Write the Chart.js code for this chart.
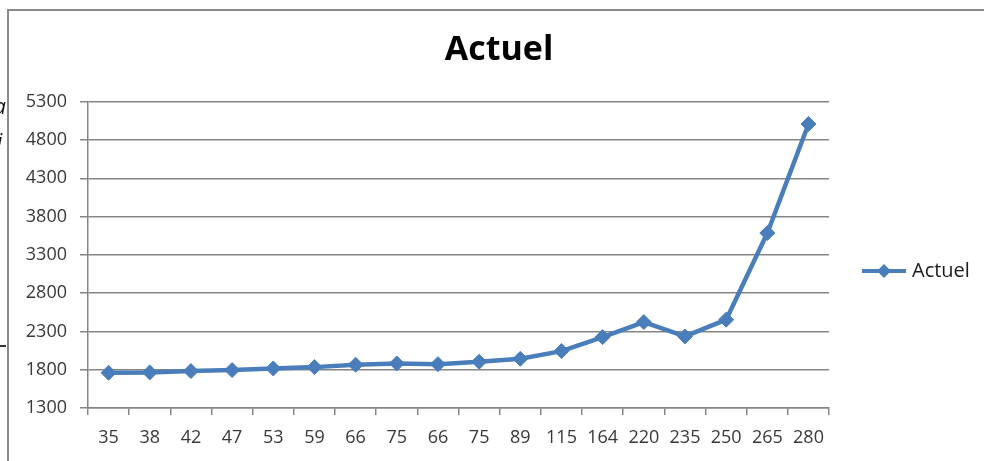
<!DOCTYPE html>
<html>
<head>
<meta charset="utf-8">
<script src="https://cdn.jsdelivr.net/npm/chart.js@4.4.1/dist/chart.umd.min.js"></script>
<style>
  html, body { margin: 0; padding: 0; background: #fff; overflow: hidden; }
  #wrap { position: relative; width: 984px; height: 461px; overflow: hidden; }
  canvas { display: block; }
  .edge { position: absolute; font: italic 21px 'Open Sans', sans-serif; color: #111; line-height: 1; }
  .dash { position: absolute; left: 0; width: 6px; height: 1.5px; background: #333; }
</style>
</head>
<body>
<div id="wrap">
  <canvas id="chart" width="984" height="461"></canvas>
  <span class="edge" style="left:-6px;top:96px">a</span>
  <span class="edge" style="left:-3px;top:131px">i</span>
  <div class="dash" style="top:345px"></div>
</div>
<script>
// Category labels along the bottom axis
const categories = ['35', '38', '42', '47', '53', '59', '66', '75', '66', '75', '89', '115', '164', '220', '235', '250', '265', '280'];
// Series values
const actuel = [1760, 1765, 1782, 1795, 1817, 1834, 1865, 1882, 1873, 1904, 1943, 2043, 2226, 2422, 2235, 2454, 3586, 5010];
// Value axis range and step
const yMin = 1300;
const yMax = 5300;
const yStep = 500;

const seriesColor = '#4A7EBB';
const gridColor = '#858585';
const tickColor = '#383838';

// Legend symbol: a short line with a diamond in the middle
function legendSymbol() {
  const c = document.createElement('canvas');
  c.width = 44; c.height = 16;
  const g = c.getContext('2d');
  g.strokeStyle = seriesColor;
  g.lineWidth = 4;
  g.beginPath(); g.moveTo(0, 8); g.lineTo(44, 8); g.stroke();
  g.fillStyle = seriesColor;
  g.beginPath(); g.moveTo(22, 1); g.lineTo(29, 8); g.lineTo(22, 15); g.lineTo(15, 8); g.closePath(); g.fill();
  return c;
}

// Outer frame of the chart object (top and left edges)
const frame = {
  id: 'frame',
  beforeDraw(chart) {
    const ctx = chart.ctx;
    ctx.save();
    ctx.strokeStyle = '#8a8a8a';
    ctx.lineWidth = 2;
    ctx.beginPath();
    ctx.moveTo(8, chart.height);
    ctx.lineTo(8, 10);
    ctx.lineTo(chart.width, 10);
    ctx.stroke();
    ctx.restore();
  }
};

// Place title and legend relative to the whole frame
const placeBlocks = {
  id: 'placeBlocks',
  afterLayout(chart) {
    const t = chart.titleBlock;
    if (t) {
      const dx = (8 + chart.width) / 2 + 3 - (t.left + t.right) / 2;
      t.left += dx; t.right += dx;
    }
    const l = chart.legend;
    if (l) {
      const dy = 271 - (l.top + l.bottom) / 2;
      l.top += dy; l.bottom += dy;
      const dxl = 866 - 10 - l.left;
      l.left += dxl; l.right += dxl;
      if (l.adjustHitBoxes) l.adjustHitBoxes();
    }
  }
};

const symbol = legendSymbol();

new Chart(document.getElementById('chart'), {
  type: 'line',
  data: {
    labels: categories,
    datasets: [{
      label: 'Actuel',
      data: actuel,
      borderColor: seriesColor,
      backgroundColor: seriesColor,
      borderWidth: 4.5,
      tension: 0,
      pointStyle: 'rectRot',
      pointRadius: 7.5,
      pointBorderWidth: 1,
      pointBackgroundColor: seriesColor,
      pointBorderColor: seriesColor
    }]
  },
  options: {
    responsive: false,
    animation: false,
    layout: { padding: { top: 9, right: 31, left: 0, bottom: 0 } },
    plugins: {
      title: {
        display: true,
        text: 'Actuel',
        color: '#000',
        font: { family: 'Open Sans', size: 34, weight: 'bold' },
        padding: { top: 21, bottom: 31 }
      },
      legend: {
        display: true,
        position: 'right',
        labels: {
          color: '#1a1a1a',
          font: { family: 'Open Sans', size: 20 },
          usePointStyle: true,
          pointStyleWidth: 36,
          padding: 10,
          generateLabels(chart) {
            const items = Chart.defaults.plugins.legend.labels.generateLabels(chart);
            items.forEach(it => { it.pointStyle = symbol; });
            return items;
          }
        }
      },
      tooltip: { enabled: false }
    },
    scales: {
      x: {
        type: 'category',
        offset: true,
        grid: { display: true, drawOnChartArea: false, drawTicks: true, tickLength: 7, color: gridColor, lineWidth: 1.5, offset: true },
        border: { display: true, color: gridColor, width: 1.5 },
        ticks: { color: tickColor, font: { family: 'Open Sans', size: 18 }, padding: 12, maxRotation: 0, autoSkip: false },
        afterFit(scale) { scale.height = 53; }
      },
      y: {
        min: yMin,
        max: yMax,
        grid: { color: gridColor, lineWidth: 1.5, tickLength: 8, drawTicks: true },
        border: { display: true, color: gridColor, width: 1.5 },
        ticks: {
          stepSize: yStep,
          color: tickColor,
          font: { family: 'Open Sans', size: 18 },
          padding: 13,
          callback: v => String(v)
        },
        afterFit(scale) { scale.width = 88; }
      }
    }
  },
  plugins: [frame, placeBlocks]
});
</script>
</body>
</html>
